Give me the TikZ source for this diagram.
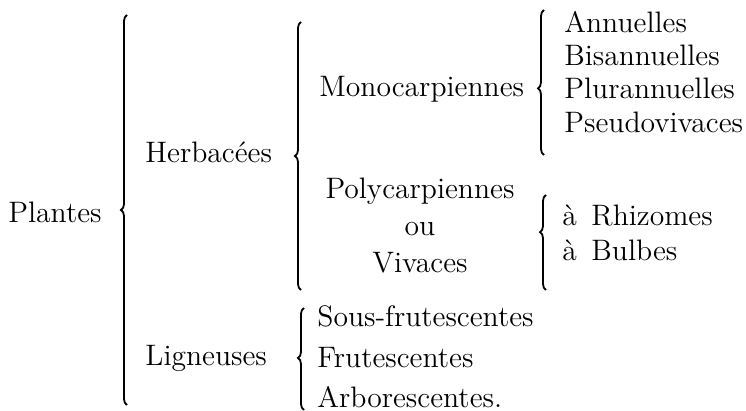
\documentclass[tikz,border=0pt]{standalone}
\usetikzlibrary{positioning,decorations.pathreplacing}
\tikzset{
  txt/.style={font=\fontsize{14.8}{18}\selectfont,inner sep=0pt,anchor=west},
  midtxt/.style={font=\fontsize{14.8}{18}\selectfont,inner sep=0pt,anchor=base},
  brc/.style={decorate,decoration={brace,amplitude=3pt},line width=0.9pt}
}
\begin{document}
\begin{tikzpicture}[x=0.5pt,y=-0.5pt]
  \useasboundingbox (0,0) rectangle (746,411);

  % first level
  \node[txt] (plantes) at (8,212) {Plantes};
  \node[txt] (herb) at (145,152) {Herbac\'ees};
  \node[txt] (lign) at (145,358) {Ligneuses};

  % second level
  \node[txt] (mono) at (319,89) {Monocarpiennes};
  \node[midtxt] (poly) at (420,199) {Polycarpiennes};
  \node[midtxt] (ou) at (420,236) {ou};
  \node[midtxt] (viv) at (420,273) {Vivaces};

  % leaves
  \node[txt] (annu) at (564,22) {Annuelles};
  \node[txt] (bisa) at (564,55) {Bisannuelles};
  \node[txt] (plur) at (564,88) {Plurannuelles};
  \node[txt] (pseu) at (564,122) {Pseudovivaces};
  \node[txt] (rhiz) at (562,215) {\`a\, Rhizomes};
  \node[txt] (bulb) at (562,250) {\`a\, Bulbes};
  \node[txt] (sous) at (317,316) {Sous-frutescentes};
  \node[txt] (frut) at (317,358) {Frutescentes};
  \node[txt] (arbo) at (317,397) {Arborescentes.};

  % brace ends
  \coordinate (b1s) at (127,405);
  \coordinate (b1e) at (127,15);
  \coordinate (b2s) at (301,290);
  \coordinate (b2e) at (301,22);
  \coordinate (b3s) at (544,155);
  \coordinate (b3e) at (544,10);
  \coordinate (b4s) at (546,290);
  \coordinate (b4e) at (546,195);
  \coordinate (b5s) at (304,410);
  \coordinate (b5e) at (304,308);

  \draw[brc] (b1s) -- (b1e);
  \draw[brc] (b2s) -- (b2e);
  \draw[brc,decoration={aspect=0.46}] (b3s) -- (b3e);
  \draw[brc,decoration={aspect=0.61}] (b4s) -- (b4e);
  \draw[brc,decoration={aspect=0.51}] (b5s) -- (b5e);
\end{tikzpicture}
\end{document}
